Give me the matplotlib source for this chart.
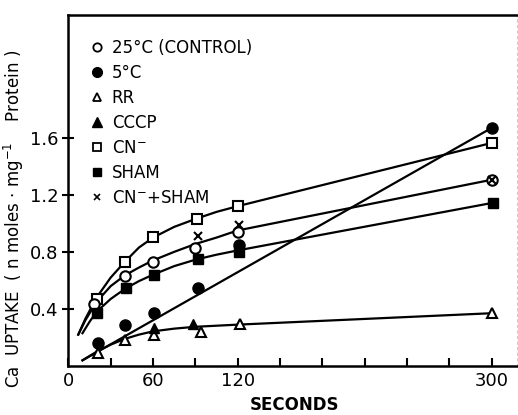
import matplotlib
matplotlib.use("Agg")
import matplotlib.pyplot as plt
from matplotlib.lines import Line2D

# measured points (seconds, nmol/mg protein)
t_control = [18, 40, 60, 90, 120, 300]
y_control = [0.435, 0.632, 0.732, 0.83, 0.938, 1.305]

t_cold = [21, 40, 61, 92, 121, 300]
y_cold = [0.164, 0.285, 0.372, 0.545, 0.85, 1.668]

t_rr = [21, 40, 61, 94, 122, 300]
y_rr = [0.089, 0.182, 0.22, 0.236, 0.295, 0.374]

t_cccp = [61, 88]
y_cccp = [0.269, 0.295]

t_cn = [20, 40, 60, 91, 120, 300]
y_cn = [0.47, 0.73, 0.907, 1.03, 1.12, 1.563]

t_sham = [20, 41, 61, 92, 121, 301]
y_sham = [0.374, 0.545, 0.635, 0.749, 0.798, 1.142]

t_cnsham = [92, 121, 300]
y_cnsham = [0.91, 0.985, 1.305]

# fitted curves as drawn in the figure
curve_cn_t = [7, 12, 20, 30, 40, 50, 60, 75, 90, 105, 120, 300]
curve_cn_y = [0.22, 0.33, 0.48, 0.62, 0.73, 0.83, 0.90, 0.975, 1.03, 1.08, 1.12, 1.563]

curve_ctrl_t = [7, 12, 20, 30, 40, 50, 60, 75, 90, 105, 120, 300]
curve_ctrl_y = [0.22, 0.32, 0.45, 0.56, 0.635, 0.69, 0.74, 0.80, 0.855, 0.90, 0.95, 1.305]

curve_sham_t = [10, 15, 20, 30, 40, 50, 60, 75, 90, 105, 120, 300]
curve_sham_y = [0.23, 0.31, 0.38, 0.47, 0.54, 0.595, 0.64, 0.70, 0.745, 0.78, 0.81, 1.142]

curve_cold_t = [10, 300]
curve_cold_y = [0.04, 1.668]

curve_rr_t = [10, 20, 30, 40, 50, 60, 75, 90, 120, 300]
curve_rr_y = [0.04, 0.1, 0.15, 0.19, 0.22, 0.243, 0.262, 0.275, 0.29, 0.37]

xticks = list(range(0, 301, 30))
xticklabels = ["0", "", "60", "", "120", "", "", "", "", "", "300"]
yticks = [0.4, 0.8, 1.2, 1.6]

fig = plt.figure(figsize=(5.18, 4.15), dpi=100)
ax = fig.add_axes([0.132, 0.118, 0.866, 0.846])

lw = 1.6
ms = 7.5
for ct, cy in [(curve_cn_t, curve_cn_y), (curve_ctrl_t, curve_ctrl_y),
               (curve_sham_t, curve_sham_y), (curve_cold_t, curve_cold_y),
               (curve_rr_t, curve_rr_y)]:
    ax.plot(ct, cy, color="black", lw=lw, zorder=2)

ax.plot(t_cn, y_cn, "s", mfc="white", mec="black", mew=1.5, ms=ms - 0.5, zorder=3)
ax.plot(t_control, y_control, "o", mfc="white", mec="black", mew=1.5, ms=ms, zorder=3)
ax.plot(t_sham, y_sham, "s", mfc="black", mec="black", ms=ms - 0.5, zorder=3)
ax.plot(t_cold, y_cold, "o", mfc="black", mec="black", ms=ms + 0.5, zorder=3)
ax.plot(t_rr, y_rr, "^", mfc="white", mec="black", mew=1.5, ms=ms, zorder=3)
ax.plot(t_cccp, y_cccp, "^", mfc="black", mec="black", ms=ms, zorder=3)
ax.plot(t_cnsham, y_cnsham, "x", color="black", mew=1.5, ms=6, zorder=4)

ax.set_xlim(0, 318)
ax.set_ylim(0, 2.46)
ax.set_xticks(xticks)
ax.set_xticklabels(xticklabels)
ax.set_yticks(yticks)
ax.set_yticklabels([f"{v:.1f}" for v in yticks])
ax.tick_params(axis="x", direction="in", length=6, width=1.5, labelsize=13, pad=4)
ax.tick_params(axis="y", direction="inout", length=8, width=1.5, labelsize=13, pad=3)

for s in ["left", "bottom", "top"]:
    ax.spines[s].set_linewidth(1.8)
ax.spines["right"].set_color("#cccccc")
ax.spines["right"].set_linestyle((0, (2, 3)))
ax.spines["right"].set_linewidth(0.8)

ax.set_xlabel("SECONDS", fontsize=12, fontweight="bold", labelpad=6)
ax.set_ylabel("Ca  UPTAKE  ( n moles $\\cdot$ mg$^{-1}$    Protein )", fontsize=12)
ax.yaxis.set_label_coords(-0.095, 0.42)
ax.xaxis.set_label_coords(0.505, -0.085)

handles = [
    Line2D([], [], ls="none", marker="o", mfc="white", mec="black", mew=1.3, ms=6),
    Line2D([], [], ls="none", marker="o", mfc="black", mec="black", ms=7),
    Line2D([], [], ls="none", marker="^", mfc="white", mec="black", mew=1.3, ms=6),
    Line2D([], [], ls="none", marker="^", mfc="black", mec="black", ms=7),
    Line2D([], [], ls="none", marker="s", mfc="white", mec="black", mew=1.3, ms=5.5),
    Line2D([], [], ls="none", marker="s", mfc="black", mec="black", ms=6),
    Line2D([], [], ls="none", marker="x", color="black", mew=1.2, ms=5),
]
labels = ["25°C (CONTROL)", "5°C", "RR", "CCCP", "CN$^{-}$", "SHAM", "CN$^{-}$+SHAM"]
ax.legend(handles, labels, loc="upper left", bbox_to_anchor=(0.03, 0.955),
          frameon=False, fontsize=12, handlelength=0.8, handletextpad=0.5,
          labelspacing=0.42, borderpad=0)

fig.savefig("out.png", dpi=100)
